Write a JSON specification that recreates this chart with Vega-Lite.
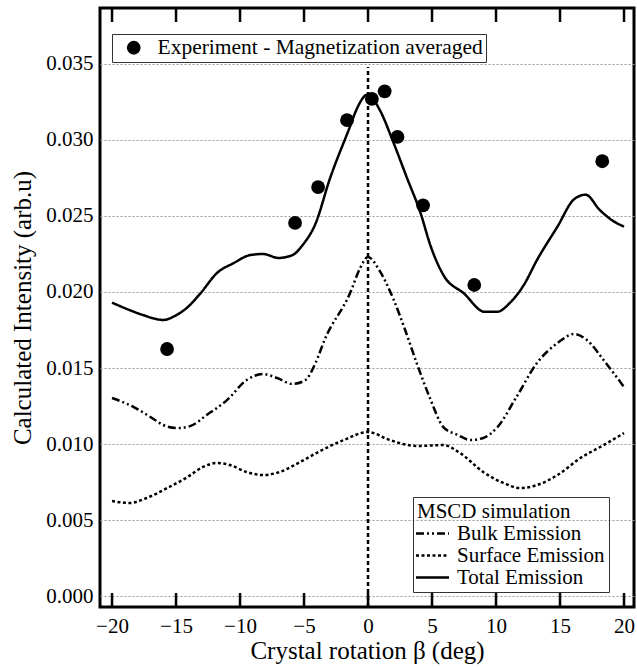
{
  "$schema": "https://vega.github.io/schema/vega-lite/v6.json",
  "width": 534,
  "height": 599,
  "autosize": {"type": "none"},
  "padding": {"left": 100, "top": 8, "right": 3, "bottom": 61},
  "background": "white",
  "config": {
    "font": "Liberation Serif, Times New Roman, serif",
    "view": {"stroke": "black", "strokeWidth": 3},
    "axis": {"labelFont": "Liberation Serif, Times New Roman, serif", "titleFont": "Liberation Serif, Times New Roman, serif", "labelColor": "black", "titleColor": "black", "titleFontWeight": "normal"},
    "legend": {"labelFont": "Liberation Serif, Times New Roman, serif", "titleFont": "Liberation Serif, Times New Roman, serif", "labelColor": "black", "titleColor": "black"}
  },
  "resolve": {"scale": {"x": "independent"}, "axis": {"x": "independent"}},
  "datasets": {
    "curves": [
      {"x": -20, "y": 0.0193, "series": "Total Emission"},
      {"x": -18.6, "y": 0.0188, "series": "Total Emission"},
      {"x": -17.6, "y": 0.01849, "series": "Total Emission"},
      {"x": -16.0, "y": 0.01816, "series": "Total Emission"},
      {"x": -15.1, "y": 0.01842, "series": "Total Emission"},
      {"x": -14.1, "y": 0.0190, "series": "Total Emission"},
      {"x": -13.1, "y": 0.0199, "series": "Total Emission"},
      {"x": -11.8, "y": 0.02125, "series": "Total Emission"},
      {"x": -10.5, "y": 0.0219, "series": "Total Emission"},
      {"x": -9.2, "y": 0.02243, "series": "Total Emission"},
      {"x": -8.2, "y": 0.0225, "series": "Total Emission"},
      {"x": -7.0, "y": 0.02224, "series": "Total Emission"},
      {"x": -5.9, "y": 0.02243, "series": "Total Emission"},
      {"x": -5.1, "y": 0.0231, "series": "Total Emission"},
      {"x": -4.1, "y": 0.0245, "series": "Total Emission"},
      {"x": -3.0, "y": 0.0274, "series": "Total Emission"},
      {"x": -1.4, "y": 0.0309, "series": "Total Emission"},
      {"x": -0.9, "y": 0.0320, "series": "Total Emission"},
      {"x": 0, "y": 0.0330, "series": "Total Emission"},
      {"x": 0.9, "y": 0.0320, "series": "Total Emission"},
      {"x": 2.0, "y": 0.0298, "series": "Total Emission"},
      {"x": 3.0, "y": 0.0276, "series": "Total Emission"},
      {"x": 4.1, "y": 0.0252, "series": "Total Emission"},
      {"x": 4.9, "y": 0.0230, "series": "Total Emission"},
      {"x": 5.9, "y": 0.0211, "series": "Total Emission"},
      {"x": 7.5, "y": 0.0199, "series": "Total Emission"},
      {"x": 9.1, "y": 0.0187, "series": "Total Emission"},
      {"x": 10.1, "y": 0.0187, "series": "Total Emission"},
      {"x": 11.1, "y": 0.0193, "series": "Total Emission"},
      {"x": 12.2, "y": 0.0205, "series": "Total Emission"},
      {"x": 13.2, "y": 0.0221, "series": "Total Emission"},
      {"x": 14.8, "y": 0.0243, "series": "Total Emission"},
      {"x": 16.1, "y": 0.0261, "series": "Total Emission"},
      {"x": 17.0, "y": 0.0264, "series": "Total Emission"},
      {"x": 18.1, "y": 0.0254, "series": "Total Emission"},
      {"x": 19.1, "y": 0.0247, "series": "Total Emission"},
      {"x": 20.0, "y": 0.0243, "series": "Total Emission"},
      {"x": -20, "y": 0.01303, "series": "Bulk Emission"},
      {"x": -18.3, "y": 0.01243, "series": "Bulk Emission"},
      {"x": -17.0, "y": 0.01178, "series": "Bulk Emission"},
      {"x": -16.0, "y": 0.01125, "series": "Bulk Emission"},
      {"x": -14.9, "y": 0.01105, "series": "Bulk Emission"},
      {"x": -13.9, "y": 0.01118, "series": "Bulk Emission"},
      {"x": -12.6, "y": 0.01191, "series": "Bulk Emission"},
      {"x": -11.0, "y": 0.0129, "series": "Bulk Emission"},
      {"x": -9.5, "y": 0.0142, "series": "Bulk Emission"},
      {"x": -8.2, "y": 0.0146, "series": "Bulk Emission"},
      {"x": -7.1, "y": 0.01434, "series": "Bulk Emission"},
      {"x": -5.9, "y": 0.01395, "series": "Bulk Emission"},
      {"x": -4.9, "y": 0.0142, "series": "Bulk Emission"},
      {"x": -4.1, "y": 0.01533, "series": "Bulk Emission"},
      {"x": -3.4, "y": 0.01684, "series": "Bulk Emission"},
      {"x": -1.4, "y": 0.01993, "series": "Bulk Emission"},
      {"x": -0.6, "y": 0.0216, "series": "Bulk Emission"},
      {"x": 0, "y": 0.0223, "series": "Bulk Emission"},
      {"x": 0.9, "y": 0.0214, "series": "Bulk Emission"},
      {"x": 2.0, "y": 0.0195, "series": "Bulk Emission"},
      {"x": 2.9, "y": 0.0175, "series": "Bulk Emission"},
      {"x": 3.8, "y": 0.01533, "series": "Bulk Emission"},
      {"x": 4.8, "y": 0.0131, "series": "Bulk Emission"},
      {"x": 5.9, "y": 0.0111, "series": "Bulk Emission"},
      {"x": 7.0, "y": 0.0106, "series": "Bulk Emission"},
      {"x": 8.0, "y": 0.01026, "series": "Bulk Emission"},
      {"x": 9.0, "y": 0.0104, "series": "Bulk Emission"},
      {"x": 10.1, "y": 0.0111, "series": "Bulk Emission"},
      {"x": 11.6, "y": 0.0131, "series": "Bulk Emission"},
      {"x": 13.2, "y": 0.01533, "series": "Bulk Emission"},
      {"x": 14.8, "y": 0.01664, "series": "Bulk Emission"},
      {"x": 16.1, "y": 0.01724, "series": "Bulk Emission"},
      {"x": 17.1, "y": 0.01684, "series": "Bulk Emission"},
      {"x": 18.4, "y": 0.01553, "series": "Bulk Emission"},
      {"x": 20.0, "y": 0.01375, "series": "Bulk Emission"},
      {"x": -20, "y": 0.00625, "series": "Surface Emission"},
      {"x": -18.6, "y": 0.00612, "series": "Surface Emission"},
      {"x": -17.3, "y": 0.00645, "series": "Surface Emission"},
      {"x": -15.7, "y": 0.0071, "series": "Surface Emission"},
      {"x": -14.1, "y": 0.00783, "series": "Surface Emission"},
      {"x": -12.9, "y": 0.00849, "series": "Surface Emission"},
      {"x": -11.8, "y": 0.00875, "series": "Surface Emission"},
      {"x": -10.8, "y": 0.00862, "series": "Surface Emission"},
      {"x": -9.5, "y": 0.00816, "series": "Surface Emission"},
      {"x": -8.2, "y": 0.00796, "series": "Surface Emission"},
      {"x": -6.9, "y": 0.00816, "series": "Surface Emission"},
      {"x": -5.3, "y": 0.00882, "series": "Surface Emission"},
      {"x": -3.9, "y": 0.00947, "series": "Surface Emission"},
      {"x": -1.9, "y": 0.01026, "series": "Surface Emission"},
      {"x": 0, "y": 0.01079, "series": "Surface Emission"},
      {"x": 1.7, "y": 0.01026, "series": "Surface Emission"},
      {"x": 3.8, "y": 0.00987, "series": "Surface Emission"},
      {"x": 5.9, "y": 0.00993, "series": "Surface Emission"},
      {"x": 7.2, "y": 0.0094, "series": "Surface Emission"},
      {"x": 9.0, "y": 0.00816, "series": "Surface Emission"},
      {"x": 10.6, "y": 0.00743, "series": "Surface Emission"},
      {"x": 11.9, "y": 0.0071, "series": "Surface Emission"},
      {"x": 13.2, "y": 0.0073, "series": "Surface Emission"},
      {"x": 14.8, "y": 0.00796, "series": "Surface Emission"},
      {"x": 16.6, "y": 0.00908, "series": "Surface Emission"},
      {"x": 18.4, "y": 0.00993, "series": "Surface Emission"},
      {"x": 20.0, "y": 0.01072, "series": "Surface Emission"}
    ],
    "experiment": [
      {"x": -15.7, "y": 0.01625, "label": "Experiment - Magnetization averaged"},
      {"x": -5.7, "y": 0.02454, "label": "Experiment - Magnetization averaged"},
      {"x": -3.9, "y": 0.0269, "label": "Experiment - Magnetization averaged"},
      {"x": -1.64, "y": 0.0313, "label": "Experiment - Magnetization averaged"},
      {"x": 0.3, "y": 0.0327, "label": "Experiment - Magnetization averaged"},
      {"x": 1.3, "y": 0.0332, "label": "Experiment - Magnetization averaged"},
      {"x": 2.3, "y": 0.0302, "label": "Experiment - Magnetization averaged"},
      {"x": 4.3, "y": 0.0257, "label": "Experiment - Magnetization averaged"},
      {"x": 8.3, "y": 0.02046, "label": "Experiment - Magnetization averaged"},
      {"x": 18.3, "y": 0.0286, "label": "Experiment - Magnetization averaged"}
    ],
    "zero": [{"x": 0, "y": -0.00072, "y2": 0.0348}],
    "xmarks": [
      {"pos": -20, "lo": -0.00072, "hi": 0.0002, "tlo": 0.03776, "thi": 0.03868},
      {"pos": -15, "lo": -0.00072, "hi": 0.0002, "tlo": 0.03776, "thi": 0.03868},
      {"pos": -10, "lo": -0.00072, "hi": 0.0002, "tlo": 0.03776, "thi": 0.03868},
      {"pos": -5, "lo": -0.00072, "hi": 0.0002, "tlo": 0.03776, "thi": 0.03868},
      {"pos": 0, "lo": -0.00072, "hi": 0.0002, "tlo": 0.03776, "thi": 0.03868},
      {"pos": 5, "lo": -0.00072, "hi": 0.0002, "tlo": 0.03776, "thi": 0.03868},
      {"pos": 10, "lo": -0.00072, "hi": 0.0002, "tlo": 0.03776, "thi": 0.03868},
      {"pos": 15, "lo": -0.00072, "hi": 0.0002, "tlo": 0.03776, "thi": 0.03868},
      {"pos": 20, "lo": -0.00072, "hi": 0.0002, "tlo": 0.03776, "thi": 0.03868}
    ]
  },
  "layer": [
    {
      "data": {"name": "zero"},
      "mark": {"type": "rule", "color": "black", "strokeWidth": 2.5, "strokeDash": [4, 3]},
      "encoding": {
        "x": {"field": "x", "type": "quantitative", "scale": {"domain": [-20.94, 20.78], "nice": false, "zero": false}, "axis": null},
        "y": {"field": "y", "type": "quantitative", "scale": {"domain": [-0.00072, 0.03868], "nice": false, "zero": false},
          "axis": {"title": "Calculated Intensity (arb.u)", "titleFontSize": 25, "titlePadding": 10, "values": [0, 0.005, 0.01, 0.015, 0.02, 0.025, 0.03, 0.035], "format": ".3f", "labelFontSize": 21, "labelPadding": 7, "ticks": false, "domain": false, "grid": true, "gridColor": "#999", "gridDash": [2, 2], "gridWidth": 1}},
        "y2": {"field": "y2"}
      }
    },
    {
      "data": {"name": "curves"},
      "mark": {"type": "line", "color": "black", "interpolate": "monotone"},
      "encoding": {
        "x": {"field": "x", "type": "quantitative", "scale": {"domain": [-20.94, 20.78], "nice": false, "zero": false},
          "axis": {"orient": "bottom", "values": [-20, -15, -10, -5, 0, 5, 10, 15, 20], "title": "Crystal rotation β (deg)", "titleFontSize": 25, "titlePadding": 2, "labelFontSize": 21, "labelPadding": 8, "domain": false, "grid": false, "ticks": false}},
        "y": {"field": "y", "type": "quantitative"},
        "strokeDash": {"field": "series", "type": "nominal",
          "scale": {"domain": ["Bulk Emission", "Surface Emission", "Total Emission"], "range": [[8, 3, 2, 3, 2, 3], [3, 2.5], [1, 0]]},
          "legend": {"orient": "none", "legendX": 313, "legendY": 489, "title": "MSCD simulation", "titleFontSize": 21, "titleFontWeight": "normal", "labelFontSize": 21, "symbolType": "M-3,0H3", "symbolSize": 121, "symbolStrokeColor": "black", "symbolFillColor": "transparent", "symbolOffset": 5, "strokeColor": "#333", "padding": 4, "labelOffset": 14, "rowPadding": 0, "titlePadding": 1, "labelLimit": 300}},
        "strokeWidth": {"field": "series", "type": "nominal",
          "scale": {"domain": ["Bulk Emission", "Surface Emission", "Total Emission"], "range": [2.5, 2.5, 4.5]}}
      }
    },
    {
      "data": {"name": "experiment"},
      "mark": {"type": "point", "filled": true, "color": "black", "size": 190, "opacity": 1},
      "encoding": {
        "x": {"field": "x", "type": "quantitative", "scale": {"domain": [-20.94, 20.78], "nice": false, "zero": false}, "axis": null},
        "y": {"field": "y", "type": "quantitative"},
        "shape": {"field": "label", "type": "nominal", "scale": {"range": ["circle"]},
          "legend": {"orient": "none", "legendX": 12, "legendY": 26, "title": null, "labelFontSize": 21.5, "labelLimit": 500, "symbolFillColor": "black", "symbolStrokeColor": "black", "symbolSize": 190, "strokeColor": "#333", "padding": 3, "symbolOffset": 8, "labelOffset": 13}}
      }
    },
    {
      "data": {"name": "xmarks"},
      "mark": {"type": "rule", "color": "black", "strokeWidth": 2.5},
      "encoding": {
        "x": {"field": "pos", "type": "quantitative", "scale": {"domain": [-20.94, 20.78], "nice": false, "zero": false}, "axis": null},
        "y": {"field": "lo", "type": "quantitative"},
        "y2": {"field": "hi"}
      }
    },
    {
      "data": {"name": "xmarks"},
      "mark": {"type": "rule", "color": "black", "strokeWidth": 2.5},
      "encoding": {
        "x": {"field": "pos", "type": "quantitative", "scale": {"domain": [-20.94, 20.78], "nice": false, "zero": false}, "axis": null},
        "y": {"field": "tlo", "type": "quantitative"},
        "y2": {"field": "thi"}
      }
    }
  ]
}
